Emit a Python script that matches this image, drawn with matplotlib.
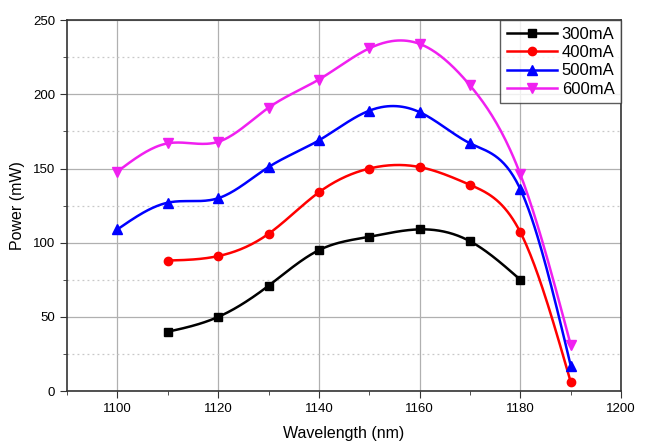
import numpy as np
import matplotlib.pyplot as plt
from matplotlib.ticker import MultipleLocator

plt.rcParams['font.family'] = ['Liberation Sans', 'DejaVu Sans']

# data
wl_300 = [1110, 1120, 1130, 1140, 1150, 1160, 1170, 1180]
p_300 = [40, 50, 71, 95, 104, 109, 101, 75]
wl_400 = [1110, 1120, 1130, 1140, 1150, 1160, 1170, 1180, 1190]
p_400 = [88, 91, 106, 134, 150, 151, 139, 107, 6]
wl_500 = [1100, 1110, 1120, 1130, 1140, 1150, 1160, 1170, 1180, 1190]
p_500 = [109, 127, 130, 151, 169, 189, 188, 167, 136, 17]
wl_600 = [1100, 1110, 1120, 1130, 1140, 1150, 1160, 1170, 1180, 1190]
p_600 = [148, 167, 168, 191, 210, 231, 234, 206, 146, 31]
labels = ['300mA', '400mA', '500mA', '600mA']


def spline(x, y, n=300):
    # natural cubic spline, like the smoothed Origin line
    x = np.asarray(x, float)
    y = np.asarray(y, float)
    h = np.diff(x)
    m = len(x)
    A = np.zeros((m, m))
    b = np.zeros(m)
    A[0, 0] = A[-1, -1] = 1
    for i in range(1, m - 1):
        A[i, i - 1] = h[i - 1]
        A[i, i] = 2 * (h[i - 1] + h[i])
        A[i, i + 1] = h[i]
        b[i] = 6 * ((y[i + 1] - y[i]) / h[i] - (y[i] - y[i - 1]) / h[i - 1])
    M = np.linalg.solve(A, b)
    xs = np.linspace(x[0], x[-1], n)
    idx = np.clip(np.searchsorted(x, xs) - 1, 0, m - 2)
    x0, x1 = x[idx], x[idx + 1]
    hh = x1 - x0
    t0, t1 = x1 - xs, xs - x0
    ys = (M[idx] * t0 ** 3 + M[idx + 1] * t1 ** 3) / (6 * hh) \
        + (y[idx] / hh - M[idx] * hh / 6) * t0 \
        + (y[idx + 1] / hh - M[idx + 1] * hh / 6) * t1
    return xs, ys


fig = plt.figure(figsize=(6.45, 4.48), dpi=100)
ax = fig.add_axes([0.104, 0.127, 0.859, 0.828])

series = [(wl_300, p_300, 'black', 's', 5.5),
          (wl_400, p_400, 'red', 'o', 6),
          (wl_500, p_500, 'blue', '^', 6.5),
          (wl_600, p_600, '#f020f0', 'v', 6.5)]
handles = []
for (x, y, c, mk, ms), lab in zip(series, labels):
    xs, ys = spline(x, y)
    ax.plot(xs, ys, color=c, lw=1.8, zorder=3)
    ax.plot(x, y, linestyle='none', marker=mk, color=c, ms=ms, zorder=4)
    h, = ax.plot([], [], color=c, marker=mk, ms=ms, lw=1.8, label=lab)
    handles.append(h)

ax.set_xlim(1090, 1200)
ax.set_ylim(0, 250)
ax.xaxis.set_major_locator(MultipleLocator(20))
ax.xaxis.set_minor_locator(MultipleLocator(10))
ax.yaxis.set_major_locator(MultipleLocator(50))
ax.yaxis.set_minor_locator(MultipleLocator(25))
ax.grid(which='major', color='#b0b0b0', lw=0.9, zorder=0)
ax.grid(which='minor', axis='y', color='#c8c8c8', lw=0.9, ls=(0, (1.5, 2.5)), zorder=0)
ax.tick_params(which='both', direction='out', labelsize=9.5, color='#333333')
ax.tick_params(which='major', length=5)
ax.tick_params(which='minor', length=3)
for s in ax.spines.values():
    s.set_color('#333333')
    s.set_linewidth(1.2)

ax.set_xlabel('Wavelength (nm)', fontsize=11.5, labelpad=8)
ax.set_ylabel('Power (mW)', fontsize=11.5, labelpad=6)

leg = ax.legend(handles=handles, loc='upper right', fontsize=12, frameon=True,
                fancybox=False, borderpad=0.4, labelspacing=0.2,
                handlelength=3.0, handletextpad=0.3, borderaxespad=0)
leg.get_frame().set_edgecolor('#333333')
leg.get_frame().set_linewidth(1.0)

fig.savefig('out.png', dpi=100)
